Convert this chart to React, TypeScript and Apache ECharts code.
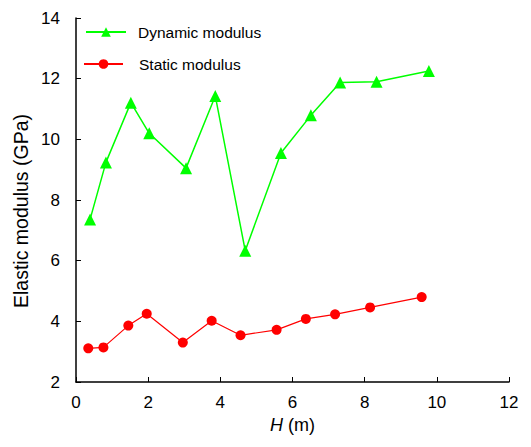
import React, { useEffect, useRef } from "react";
import * as echarts from "echarts";

const dynamicDepth = [0.39, 0.83, 1.52, 2.03, 3.05, 3.86, 4.69, 5.68, 6.51, 7.32, 8.33, 9.78];
const dynamicModulus = [7.36, 9.24, 11.21, 10.2, 9.05, 11.43, 6.33, 9.55, 10.79, 11.87, 11.9, 12.25];
const staticDepth = [0.34, 0.76, 1.45, 1.96, 2.96, 3.76, 4.56, 5.56, 6.37, 7.18, 8.15, 9.58];
const staticModulus = [3.11, 3.14, 3.86, 4.25, 3.3, 4.02, 3.54, 3.72, 4.08, 4.23, 4.46, 4.8];
const seriesNames = ["Dynamic modulus", "Static modulus"];
const yAxisTitle = "Elastic modulus (GPa)";

export default function App() {
  const ref = useRef<HTMLDivElement>(null);
  useEffect(() => {
    if (!ref.current) return;
    const chart = echarts.init(ref.current, null, { renderer: "svg" });
    const font = "Liberation Sans, Arial, sans-serif";
    const legendText = { fontSize: 15.5, color: "#000", fontFamily: font };
    chart.setOption({
      animation: false,
      backgroundColor: "#fff",
      textStyle: { fontFamily: font },
      grid: { left: 76, right: 22, top: 18, bottom: 65 },
      legend: [
        {
          left: 85,
          top: 24,
          padding: 0,
          itemWidth: 40,
          itemHeight: 12,
          textStyle: { ...legendText, padding: [0, 0, 0, 7] },
          data: [seriesNames[0]],
        },
        {
          left: 83,
          top: 56,
          padding: 0,
          itemWidth: 39,
          itemHeight: 12,
          textStyle: { ...legendText, padding: [0, 0, 0, 11] },
          data: [seriesNames[1]],
        },
      ],
      graphic: [
        {
          type: "text",
          x: 21,
          y: 211,
          rotation: Math.PI / 2,
          style: {
            text: yAxisTitle,
            fontSize: 19.5,
            fontFamily: font,
            fill: "#000",
            align: "center",
            verticalAlign: "middle",
          },
        },
      ],
      xAxis: {
        type: "value",
        min: 0,
        max: 12,
        interval: 2,
        name: "{i|H} (m)",
        nameLocation: "middle",
        nameGap: 30,
        nameTextStyle: {
          fontSize: 18,
          color: "#000",
          fontFamily: font,
          rich: { i: { fontStyle: "italic", fontSize: 18, color: "#000", fontFamily: font } },
        },
        axisLine: { lineStyle: { color: "#000", width: 1.5 } },
        axisTick: { inside: true, length: 5, lineStyle: { color: "#000", width: 1 } },
        axisLabel: { fontSize: 17, color: "#000", margin: 12, fontFamily: font },
        splitLine: { show: false },
      },
      yAxis: {
        type: "value",
        min: 2,
        max: 14,
        interval: 2,
        axisLine: { show: true, lineStyle: { color: "#000", width: 1.5 } },
        axisTick: { show: true, inside: true, length: 5, lineStyle: { color: "#000", width: 1 } },
        axisLabel: { fontSize: 17, color: "#000", margin: 16, fontFamily: font },
        splitLine: { show: false },
      },
      series: [
        {
          name: seriesNames[0],
          type: "line",
          data: dynamicDepth.map((x, i) => [x, dynamicModulus[i]]),
          symbol: "triangle",
          symbolSize: 12,
          lineStyle: { color: "#00ff00", width: 1.5 },
          itemStyle: { color: "#00ff00" },
        },
        {
          name: seriesNames[1],
          type: "line",
          data: staticDepth.map((x, i) => [x, staticModulus[i]]),
          symbol: "circle",
          symbolSize: 10,
          lineStyle: { color: "#ff0000", width: 1.2 },
          itemStyle: { color: "#ff0000" },
        },
      ],
    });
    return () => chart.dispose();
  }, []);
  return <div ref={ref} style={{ width: 531, height: 447, position: "absolute", left: 0, top: 0 }} />;
}
